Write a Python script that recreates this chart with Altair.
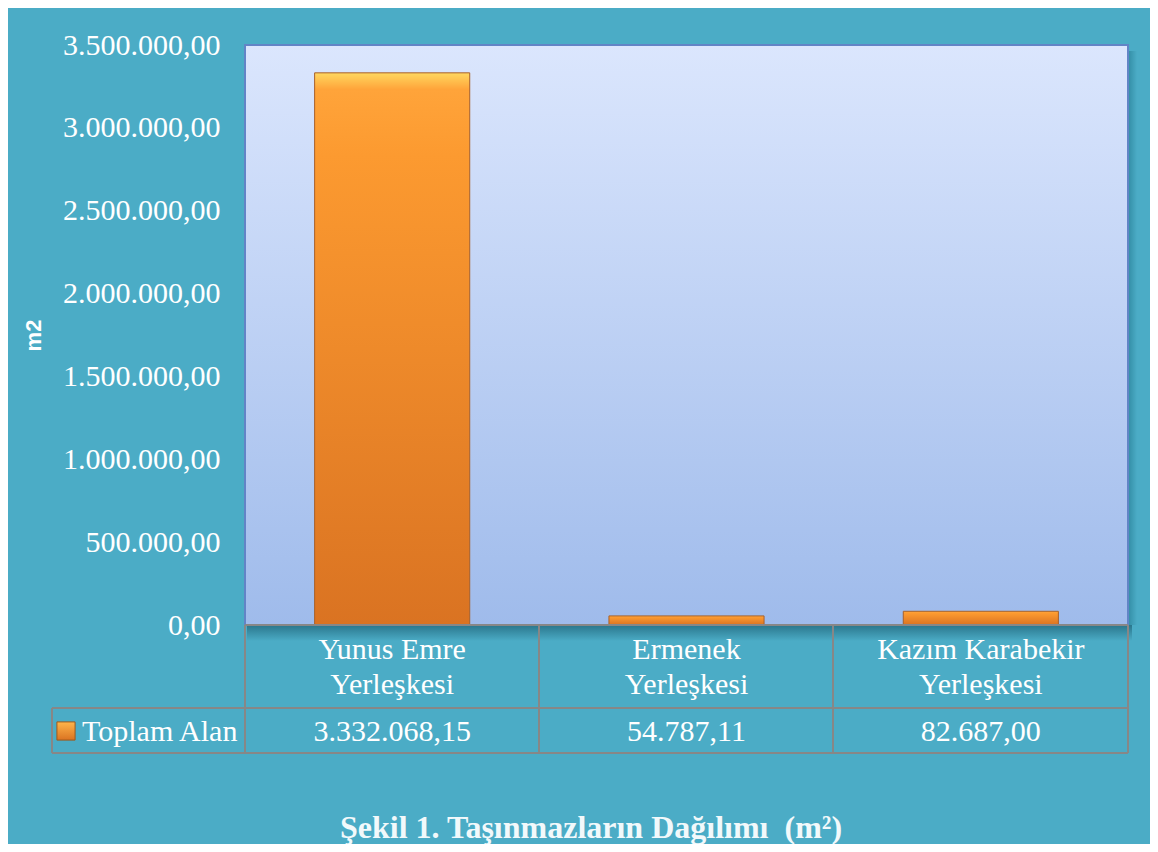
import altair as alt
import pandas as pd

# ---- data ----
kampusler = ["Yunus Emre Yerleşkesi", "Ermenek Yerleşkesi", "Kazım Karabekir Yerleşkesi"]
etiketler = ["Yunus Emre\nYerleşkesi", "Ermenek\nYerleşkesi", "Kazım Karabekir\nYerleşkesi"]
toplam_alan = [3332068.15, 54787.11, 82687.00]
seri_adi = "Toplam Alan"
y_ticks = [0, 500000, 1000000, 1500000, 2000000, 2500000, 3000000, 3500000]
baslik = "Şekil 1. Taşınmazların Dağılımı \u00a0(m²)"
eksen_baslik = "m2"

df = pd.DataFrame({"kampus": kampusler, "etiket": etiketler, "alan": toplam_alan})

W, H = 883, 580
TEAL = "#4BACC6"
GRID = "#878787"
SERIF = "Liberation Serif"
FS = 30
one = alt.Data(values=[{}])

xscale = alt.Scale(domain=kampusler, paddingInner=0.473, paddingOuter=0.2365)
yscale = alt.Scale(domain=[0, 3500000], nice=False, zero=True)

# plot background gradient
bg = alt.Chart(one).mark_rect(
    color=alt.LinearGradient(
        gradient="linear", x1=0, x2=0, y1=0, y2=1,
        stops=[alt.GradientStop(color="#DBE6FD", offset=0),
               alt.GradientStop(color="#9FBBEB", offset=1)]),
    stroke="#6284C6", strokeWidth=2,
).encode(x=alt.value(0), x2=alt.value(W), y=alt.value(0), y2=alt.value(H))

shadow = alt.Chart(one).mark_rect(
    color=alt.LinearGradient(
        gradient="linear", x1=0, x2=0, y1=0, y2=1,
        stops=[alt.GradientStop(color="#2A768C", offset=0),
               alt.GradientStop(color=TEAL, offset=1)]),
).encode(x=alt.value(2), x2=alt.value(W + 4), y=alt.value(H), y2=alt.value(H + 16))

shadow_r = alt.Chart(one).mark_rect(
    color=alt.LinearGradient(
        gradient="linear", x1=0, x2=1, y1=0, y2=0,
        stops=[alt.GradientStop(color="#3590A8", offset=0),
               alt.GradientStop(color=TEAL, offset=1)]),
).encode(x=alt.value(W + 1), x2=alt.value(W + 9), y=alt.value(6), y2=alt.value(H))

bars = alt.Chart(df).mark_bar(
    color=alt.LinearGradient(
        gradient="linear", x1=0, x2=0, y1=0, y2=1,
        stops=[alt.GradientStop(color="#FFD860", offset=0),
               alt.GradientStop(color="#FFA43A", offset=0.03),
               alt.GradientStop(color="#FC9A30", offset=0.15),
               alt.GradientStop(color="#DA7322", offset=1)]),
    stroke="#A8602A", strokeWidth=1,
).encode(
    x=alt.X("kampus:N", scale=xscale, axis=None, sort=kampusler),
    y=alt.Y("alan:Q", scale=yscale,
            axis=alt.Axis(values=y_ticks, format=",.2f", title=eksen_baslik,
                          grid=True, gridColor=GRID, gridWidth=1.6,
                          ticks=False, domain=True, domainColor=GRID, domainWidth=2,
                          labelFont=SERIF, labelFontSize=FS, labelColor="white",
                          labelPadding=25,
                          titleFont="Liberation Sans", titleFontSize=22,
                          titleFontWeight="bold", titleColor="white",
                          titleX=-212, titleY=290, titleAngle=270,
                          titleAlign="center", titleBaseline="middle")),
)

def hrule(x1, x2, y):
    return alt.Chart(one).mark_rule(color=GRID, strokeWidth=2).encode(
        x=alt.value(x1), x2=alt.value(x2), y=alt.value(y))

def vrule(x, y1, y2):
    return alt.Chart(one).mark_rule(color=GRID, strokeWidth=2).encode(
        x=alt.value(x), y=alt.value(y1), y2=alt.value(y2))

rules = [
    hrule(0, W, H), hrule(-193, W, 663), hrule(-193, W, 708),
    vrule(-193, 663, 708), vrule(0, H, 708), vrule(294, H, 708),
    vrule(588, H, 708), vrule(W, H, 708),
]

cat_text = alt.Chart(df).mark_text(
    font=SERIF, fontSize=FS, color="white", lineBreak="\n", lineHeight=35,
    baseline="middle", align="center",
).encode(
    x=alt.X("kampus:N", scale=xscale, sort=kampusler),
    y=alt.value(605), text="etiket:N")

val_text = alt.Chart(df).mark_text(
    font=SERIF, fontSize=FS, color="white", baseline="middle", align="center",
).encode(
    x=alt.X("kampus:N", scale=xscale, sort=kampusler),
    y=alt.value(687), text=alt.Text("alan:Q", format=",.2f"))

leg_sym = alt.Chart(one).mark_square(
    size=330, opacity=1,
    color=alt.LinearGradient(
        gradient="linear", x1=0, x2=0, y1=0, y2=1,
        stops=[alt.GradientStop(color="#FFB54A", offset=0),
               alt.GradientStop(color="#DA7322", offset=1)]),
    stroke="#9C5A1E", strokeWidth=1,
).encode(x=alt.value(-179), y=alt.value(686))

leg_text = alt.Chart(one).mark_text(
    font=SERIF, fontSize=FS, color="white", baseline="middle", align="left",
).encode(x=alt.value(-163), y=alt.value(687), text=alt.value(seri_adi))

title_text = alt.Chart(one).mark_text(
    font=SERIF, fontSize=32, fontWeight="bold", color="#F2F9FB",
    baseline="alphabetic", align="center",
).encode(x=alt.value(346), y=alt.value(793), text=alt.value(baslik))

chart = alt.layer(
    shadow, shadow_r, bg, bars, *rules, cat_text, val_text, leg_sym, leg_text, title_text
).properties(
    width=W, height=H,
    padding={"left": 237, "top": 37, "right": 22, "bottom": 219},
    autosize=alt.AutoSizeParams(type="none"),
    background=TEAL,
).configure_view(
    stroke=None,
).configure(
    locale={"number": {"decimal": ",", "thousands": ".", "grouping": [3],
                       "currency": ["", " TL"]}},
)

chart.save("out.html", embed_options={"renderer": "svg", "actions": False})
